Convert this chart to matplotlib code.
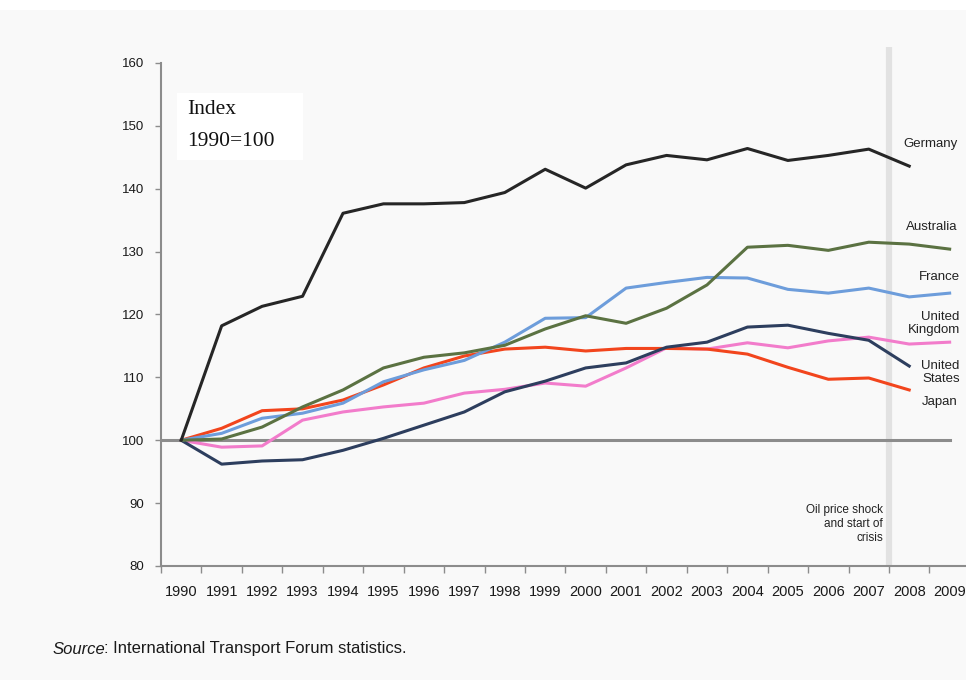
import matplotlib
matplotlib.use("Agg")
import matplotlib.pyplot as plt
from matplotlib.patches import Rectangle

plt.rcParams['font.family'] = ['Liberation Sans', 'DejaVu Sans']

# ----------------------------------------------------------------------------------------------------------------------
# data (index, 1990 = 100)
years = [str(y) for y in range(1990, 2010)]

germany = [100, 118.2, 121.3, 122.9, 136.1, 137.6, 137.6, 137.8, 139.4, 143.1,
           140.1, 143.8, 145.3, 144.6, 146.4, 144.5, 145.3, 146.3, 143.6]
australia = [100, 100.2, 102.1, 105.3, 108.0, 111.5, 113.2, 113.9, 115.1, 117.7,
             119.8, 118.6, 121.0, 124.7, 130.7, 131.0, 130.2, 131.5, 131.2, 130.4]
france = [100, 101.1, 103.5, 104.3, 105.9, 109.3, 111.2, 112.7, 115.6, 119.4,
          119.5, 124.2, 125.1, 125.9, 125.8, 124.0, 123.4, 124.2, 122.8, 123.4]
united_kingdom = [100, 98.9, 99.1, 103.2, 104.5, 105.3, 105.9, 107.5, 108.1, 109.1,
                  108.6, 111.5, 114.7, 114.5, 115.5, 114.7, 115.8, 116.4, 115.3, 115.6]
united_states = [100, 96.2, 96.7, 96.9, 98.4, 100.3, 102.4, 104.5, 107.7, 109.4,
                 111.5, 112.3, 114.8, 115.6, 118.0, 118.3, 117.0, 115.9, 111.8]
japan = [100, 101.9, 104.7, 105.0, 106.4, 108.8, 111.5, 113.4, 114.5, 114.8,
         114.2, 114.6, 114.6, 114.5, 113.7, 111.6, 109.7, 109.9, 108.0]

# ----------------------------------------------------------------------------------------------------------------------
bg = '#f9f9f9'
fig = plt.figure(figsize=(9.66, 6.8), dpi=100, facecolor=bg)
fig.patches.append(Rectangle((0, 1 - 10 / 680), 1, 10 / 680, transform=fig.transFigure,
                             facecolor='white', edgecolor='none', zorder=0))

ax = fig.add_axes([161 / 966, 1 - 566 / 680, 1 - 161 / 966 + 0.004, (566 - 63) / 680])
ax.set_facecolor(bg)

x = list(range(len(years)))

# crisis marker and base line
ax.plot([17.5, 17.5], [80, 162.5], color='#e2e2e2', lw=4.5, clip_on=False, zorder=1,
        solid_capstyle='butt')
ax.plot([-0.5, 19], [100, 100], color='#8c8c8c', lw=2.2, zorder=2)

ax.plot(x[:len(united_kingdom)], united_kingdom, color='#f27ccb', lw=2.2, zorder=3)
ax.plot(x[:len(japan)], japan, color='#f2451d', lw=2.2, zorder=3)
ax.plot(x[:len(united_states)], united_states, color='#2d3e5e', lw=2.2, zorder=3)
ax.plot(x[:len(france)], france, color='#6d9ddb', lw=2.2, zorder=3)
ax.plot(x[:len(australia)], australia, color='#5b7242', lw=2.2, zorder=3)
ax.plot(x[:len(germany)], germany, color='#262626', lw=2.2, zorder=3)

ax.set_xlim(-0.5, 19.5)
ax.set_ylim(80, 160)

ax.set_xticks(x)
ax.set_xticklabels(years, fontsize=10.5, color='#1a1a1a')
ax.set_xticks([i - 0.5 for i in range(len(years) + 1)], minor=True)
ax.tick_params(axis='x', which='major', length=0, pad=14)
ax.tick_params(axis='x', which='minor', length=5, width=1, color='#8c8c8c', direction='out')

ax.set_yticks(range(80, 161, 10))
ax.tick_params(axis='y', length=4, width=1, color='#8c8c8c', labelsize=9.5, labelcolor='#1a1a1a', pad=8)

for s in ['top', 'right']:
    ax.spines[s].set_visible(False)
for s in ['left', 'bottom']:
    ax.spines[s].set_color('#8c8c8c')
    ax.spines[s].set_linewidth(1.5)

# country labels
lab = dict(ha='right', va='center', fontsize=9.5, color='#222222', linespacing=1.15)
ax.text(19.2, 147.1, 'Germany', **lab)
ax.text(19.2, 133.9, 'Australia', **lab)
ax.text(19.25, 125.9, 'France', **lab)
ax.text(19.25, 118.6, 'United\nKingdom', **lab)
ax.text(19.25, 110.8, 'United\nStates', **lab)
ax.text(19.2, 106.1, 'Japan', **lab)

ax.text(17.35, 86.7, 'Oil price shock\nand start of\ncrisis', ha='right', va='center',
        fontsize=8.5, color='#222222', linespacing=1.2)

# index box
ax.add_patch(Rectangle((177, 680 - 160), 126, 67, transform=None, facecolor='white',
                       edgecolor='none', zorder=2))
fig.text(187 / 966, 1 - 110 / 680, 'Index', fontsize=15.5, family='Liberation Serif',
         va='center', color='#111111')
fig.text(187 / 966, 1 - 141 / 680, '1990=100', fontsize=15.5, family='Liberation Serif',
         va='center', color='#111111')

# source line
t1 = fig.text(53 / 966, 1 - 649 / 680, 'Source', fontsize=12, style='italic',
              va='center', color='#1a1a1a')
fig.canvas.draw()
bb = t1.get_window_extent()
fig.text((bb.x1 - 2) / 966, 1 - 649 / 680, ': International Transport Forum statistics.',
         fontsize=12, va='center', color='#1a1a1a')

fig.savefig('out.png', dpi=100, facecolor=bg)
